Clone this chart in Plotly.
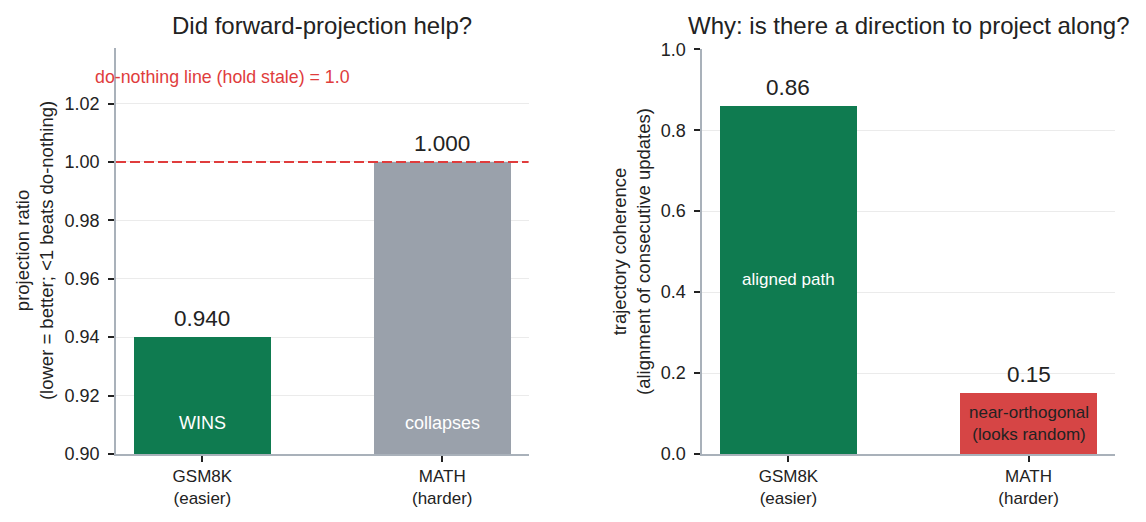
import plotly.graph_objects as go

categories = ["GSM8K", "MATH"]
category_ticks = ["GSM8K<br>(easier)", "MATH<br>(harder)"]
projection_ratio = [0.940, 1.000]
projection_labels = ["WINS", "collapses"]
coherence = [0.86, 0.15]
coherence_labels = ["aligned path", "near-orthogonal<br>(looks random)"]
do_nothing = 1.0

GREEN = "#0f7b50"
GRAY = "#9aa1ab"
RED = "#d64545"
DASH_RED = "#e03c3c"
AXIS = "#a9b1ba"
GRID = "#ebebeb"
FONT = "Liberation Sans, Arial, Helvetica, sans-serif"
TXT = "#222222"

fig = go.Figure()
fig.add_trace(go.Bar(x=categories, y=[v - 0.9 for v in projection_ratio], base=0.9,
                     marker=dict(color=[GREEN, GRAY], line=dict(width=0)),
                     width=0.57, xaxis="x", yaxis="y", showlegend=False, hoverinfo="skip"))
fig.add_trace(go.Bar(x=categories, y=coherence,
                     marker=dict(color=[GREEN, RED], line=dict(width=0)),
                     width=0.57, xaxis="x2", yaxis="y2", showlegend=False, hoverinfo="skip"))

# do-nothing dashed line
fig.add_shape(type="line", xref="x domain", yref="y", x0=0, x1=1, y0=do_nothing, y1=do_nothing,
              line=dict(color=DASH_RED, width=2, dash="10px,4px"))

ann = []
# value labels
for c, v in zip(categories, projection_ratio):
    ann.append(dict(x=c, y=v, xref="x", yref="y", text=f"{v:.3f}", showarrow=False,
                    yanchor="bottom", yshift=4, font=dict(size=22.5, color=TXT, family=FONT)))
for c, v in zip(categories, coherence):
    ann.append(dict(x=c, y=v, xref="x2", yref="y2", text=f"{v:.2f}", showarrow=False,
                    yanchor="bottom", yshift=4, font=dict(size=22.5, color=TXT, family=FONT)))
# inside labels
for c, t in zip(categories, projection_labels):
    ann.append(dict(x=c, y=0.9105, xref="x", yref="y", text=t, showarrow=False,
                    yanchor="middle", font=dict(size=18, color="white", family=FONT)))
for c, v, t, col in zip(categories, coherence, coherence_labels, ["white", TXT]):
    ann.append(dict(x=c, y=v / 2, xref="x2", yref="y2", text=t, showarrow=False,
                    yanchor="middle", font=dict(size=17, color=col, family=FONT)))
# do-nothing text
ann.append(dict(x=-0.023, y=1.029, xref="paper", yref="y", text="do-nothing line (hold stale) = 1.0",
                showarrow=False, xanchor="left", yanchor="middle",
                font=dict(size=17.8, color=DASH_RED, family=FONT)))
# titles
ann.append(dict(x=0.2065, y=1.055, xref="paper", yref="paper", text="Did forward-projection help?",
                showarrow=False, xanchor="center", yanchor="middle",
                font=dict(size=24, color=TXT, family=FONT)))
ann.append(dict(x=0.7935, y=1.055, xref="paper", yref="paper", text="Why: is there a direction to project along?",
                showarrow=False, xanchor="center", yanchor="middle",
                font=dict(size=24, color=TXT, family=FONT)))
# axis titles
ann.append(dict(x=-0.082, y=0.5, xref="paper", yref="paper",
                text="projection ratio<br>(lower = better; <1 beats do-nothing)",
                showarrow=False, textangle=-90, xanchor="center", yanchor="middle",
                font=dict(size=18.5, color=TXT, family=FONT)))
ann.append(dict(x=0.5155, y=0.5, xref="paper", yref="paper",
                text="trajectory coherence<br>(alignment of consecutive updates)",
                showarrow=False, textangle=-90, xanchor="center", yanchor="middle",
                font=dict(size=18.5, color=TXT, family=FONT)))

axis_common = dict(showline=True, linecolor=AXIS, linewidth=1.5, ticks="outside",
                   ticklen=6, tickwidth=1.5, tickcolor=TXT, zeroline=False)
yfont = dict(size=18, color=TXT, family=FONT)
xfont = dict(size=17, color=TXT, family=FONT)

fig.update_layout(
    width=1146, height=522,
    margin=dict(l=116, r=31, t=48, b=68),
    plot_bgcolor="white", paper_bgcolor="white",
    bargap=0,
    annotations=ann,
    xaxis=dict(domain=[0, 0.413], range=[-0.36, 1.36], tickvals=categories, ticktext=category_ticks,
               showgrid=False, anchor="y", tickfont=xfont, **axis_common),
    yaxis=dict(domain=[0, 1], range=[0.9, 1.039], tickvals=[0.90, 0.92, 0.94, 0.96, 0.98, 1.00, 1.02],
               tickformat=".2f", showgrid=True, gridcolor=GRID, gridwidth=1, anchor="x",
               ticklabelstandoff=5, tickfont=yfont, **axis_common),
    xaxis2=dict(domain=[0.5866, 1], range=[-0.36, 1.36], tickvals=categories, ticktext=category_ticks,
                showgrid=False, anchor="y2", tickfont=xfont, **axis_common),
    yaxis2=dict(domain=[0, 0.9968], range=[0, 1.0], tickvals=[0, 0.2, 0.4, 0.6, 0.8, 1.0],
                tickformat=".1f", showgrid=True, gridcolor=GRID, gridwidth=1, anchor="x2",
                ticklabelstandoff=5, tickfont=yfont, **axis_common),
)

fig.write_html("out.html")
